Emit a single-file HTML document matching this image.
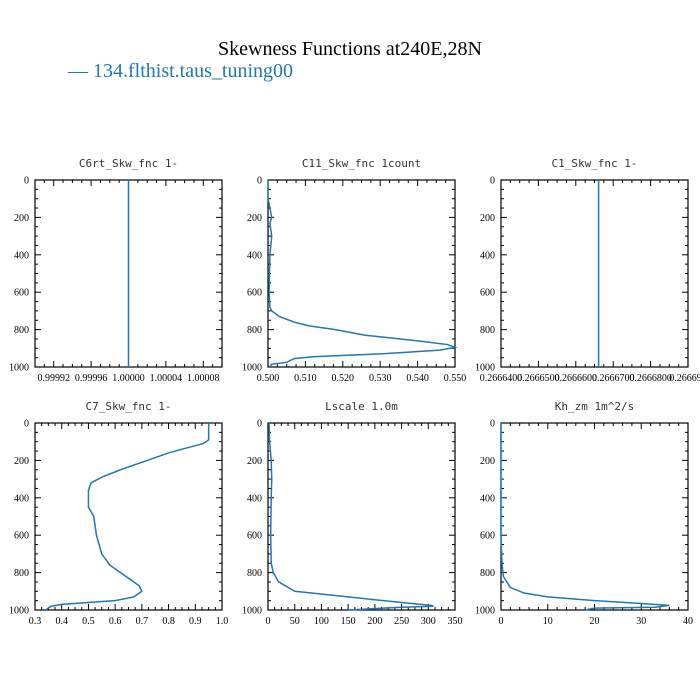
<!DOCTYPE html>
<html><head><meta charset="utf-8"><style>
body{margin:0;background:#fff;width:700px;height:700px;overflow:hidden}
svg{display:block}
.tl{font-family:"Liberation Serif",serif;font-size:10px;fill:#000}
.pt{font-family:"DejaVu Sans Mono","Liberation Mono",monospace;font-size:11px;fill:#333}
</style></head><body>
<svg id="chart" width="700" height="700" xmlns="http://www.w3.org/2000/svg">
<text x="350" y="55" text-anchor="middle" font-family="Liberation Serif, serif" font-size="20">Skewness Functions at240E,28N</text>
<text x="68" y="77" font-family="Liberation Serif, serif" font-size="20" fill="#1f77b4">— 134.flthist.taus_tuning00</text>
</svg>
<script>
// depth axis (shared)
const yTicks=[0,200,400,600,800,1000];
// panel 1: C6rt
const p1Vals=[1.0,1.0];
const p1Depth=[0,1000];
const p1XTicks=["0.99992","0.99996","1.00000","1.00004","1.00008"];
const p1XTickVals=[0.99992,0.99996,1.0,1.00004,1.00008];
// panel 2: C11
const p2Vals=[0.500,0.500,0.5005,0.501,0.5005,0.501,0.5005,0.5003,0.5005,0.501,0.503,0.507,0.511,0.518,0.526,0.540,0.548,0.550,0.546,0.530,0.512,0.507,0.505,0.501,0.5005];
const p2Depth=[0,100,150,200,230,300,400,600,680,700,730,760,780,800,830,860,880,895,910,930,945,955,975,985,1000];
const p2XTicks=["0.500","0.510","0.520","0.530","0.540","0.550"];
const p2XTickVals=[0.50,0.51,0.52,0.53,0.54,0.55];
// panel 3: C1
const p3Vals=[0.2666661,0.2666661];
const p3Depth=[0,1000];
const p3XTicks=["0.2666400","0.2666500","0.2666600","0.2666700","0.2666800","0.266690"];
const p3XTickVals=[0.26664,0.26665,0.26666,0.26667,0.26668,0.26669];
// panel 4: C7
const p4Vals=[0.95,0.95,0.93,0.85,0.80,0.72,0.62,0.55,0.51,0.50,0.50,0.52,0.53,0.55,0.58,0.63,0.67,0.69,0.70,0.67,0.60,0.50,0.40,0.36,0.34];
const p4Depth=[0,90,110,140,160,200,250,290,320,360,450,500,600,700,760,810,850,870,900,930,950,960,970,980,1000];
const p4XTicks=["0.3","0.4","0.5","0.6","0.7","0.8","0.9","1.0"];
const p4XTickVals=[0.3,0.4,0.5,0.6,0.7,0.8,0.9,1.0];
// panel 5: Lscale
const p5Vals=[2,3,6,7,6,5,6,10,20,50,150,250,305,310,250,150];
const p5Depth=[0,100,200,300,400,600,750,800,850,900,930,960,975,980,985,1000];
const p5XTicks=["0","50","100","150","200","250","300","350"];
const p5XTickVals=[0,50,100,150,200,250,300,350];
// panel 6: Kh_zm
const p6Vals=[0,0,0.2,0.5,2,5,10,20,30,36,33,20,18];
const p6Depth=[0,600,750,820,880,910,930,950,965,975,985,990,1000];
const p6XTicks=["0","10","20","30","40"];
const p6XTickVals=[0,10,20,30,40];

const NS="http://www.w3.org/2000/svg";
const svg=document.getElementById("chart");
function mk(t,a,p){const e=document.createElementNS(NS,t);for(const k in a)e.setAttribute(k,a[k]);(p||svg).appendChild(e);return e;}

const panels=[
 {id:"c6rt",title:"C6rt_Skw_fnc  1-",x0:35,y0:180,w:187,h:187,xmin:0.9999,xmax:1.0001,minor:0.00001,v:p1Vals,d:p1Depth,tl:p1XTicks,tv:p1XTickVals},
 {id:"c11",title:"C11_Skw_fnc  1count",x0:268,y0:180,w:187,h:187,xmin:0.5,xmax:0.55,minor:0.0025,v:p2Vals,d:p2Depth,tl:p2XTicks,tv:p2XTickVals},
 {id:"c1",title:"C1_Skw_fnc  1-",x0:501,y0:180,w:187,h:187,xmin:0.26664,xmax:0.26669,minor:0.0000025,v:p3Vals,d:p3Depth,tl:p3XTicks,tv:p3XTickVals},
 {id:"c7",title:"C7_Skw_fnc  1-",x0:35,y0:423,w:187,h:187,xmin:0.3,xmax:1.0,minor:0.025,v:p4Vals,d:p4Depth,tl:p4XTicks,tv:p4XTickVals},
 {id:"lscale",title:"Lscale  1.0m",x0:268,y0:423,w:187,h:187,xmin:0,xmax:350,minor:12.5,v:p5Vals,d:p5Depth,tl:p5XTicks,tv:p5XTickVals},
 {id:"khzm",title:"Kh_zm  1m^2/s",x0:501,y0:423,w:187,h:187,xmin:0,xmax:40,minor:2,v:p6Vals,d:p6Depth,tl:p6XTicks,tv:p6XTickVals}
];

panels.forEach(p=>{
 const g=mk("g",{});
 
 
 const xs=v=>p.x0+(v-p.xmin)/(p.xmax-p.xmin)*p.w;
 const ys=d=>p.y0+d/1000*p.h;
 const t=mk("text",{x:p.x0+p.w/2,y:p.y0-13,"text-anchor":"middle",class:"pt"},g);
 t.textContent=p.title;
 
 
 // y ticks
 for(let d=0;d<=1000;d+=50){
  const L=(d%200===0)?6:3;
  mk("line",{x1:p.x0,x2:p.x0+L,y1:ys(d),y2:ys(d),stroke:"#000","stroke-width":1},g);
  mk("line",{x1:p.x0+p.w,x2:p.x0+p.w-L,y1:ys(d),y2:ys(d),stroke:"#000","stroke-width":1},g);
 }
 yTicks.forEach(d=>{
  const e=mk("text",{x:p.x0-6,y:ys(d)+3.5,"text-anchor":"end",class:"tl"},g);
  e.textContent=d;
  
  
 });
 // x ticks
 const n=Math.round((p.xmax-p.xmin)/p.minor);
 for(let i=0;i<=n;i++){
  const v=p.xmin+i*p.minor;
  const major=p.tv.some(tv=>Math.abs(tv-v)<p.minor*0.1);
  const L=major?6:3;
  mk("line",{x1:xs(v),x2:xs(v),y1:p.y0,y2:p.y0+L,stroke:"#000","stroke-width":1},g);
  mk("line",{x1:xs(v),x2:xs(v),y1:p.y0+p.h,y2:p.y0+p.h-L,stroke:"#000","stroke-width":1},g);
 }
 p.tv.forEach((v,i)=>{
  const e=mk("text",{x:xs(v),y:p.y0+p.h+14,"text-anchor":"middle",class:"tl"},g);
  e.textContent=p.tl[i];
  
  
 });
 const box=mk("rect",{x:p.x0,y:p.y0,width:p.w,height:p.h,fill:"none",stroke:"#000","stroke-width":1.2},g);
 
 
 const pts=p.v.map((v,i)=>xs(v).toFixed(2)+","+ys(p.d[i]).toFixed(2)).join(" ");
 const line=mk("polyline",{points:pts,fill:"none",stroke:"#1f77b4","stroke-width":1.5},g);
 
 
});
</script>
</body></html>
